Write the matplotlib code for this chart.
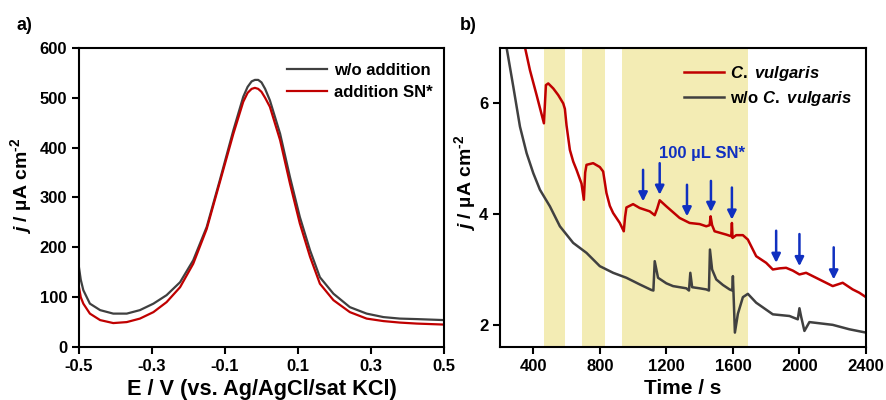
import matplotlib
matplotlib.use("Agg")
import matplotlib.pyplot as plt

# ---------------- data: panel a ----------------
E_gray = [-0.5, -0.495, -0.488, -0.47, -0.442, -0.406, -0.369, -0.333, -0.296, -0.26, -0.223,
          -0.187, -0.15, -0.114, -0.077, -0.05, -0.038, -0.027, -0.018, -0.009, 0.0, 0.01,
          0.023, 0.051, 0.078, 0.105, 0.133, 0.16, 0.197, 0.242, 0.288, 0.334, 0.379, 0.425, 0.5]
j_gray = [160, 135, 114, 87, 74, 67, 67, 74, 87, 104, 130,
          174, 241, 335, 435, 502, 522, 533, 536, 536, 531, 518,
          495, 428, 341, 261, 194, 140, 107, 80, 67, 60, 57, 56, 54]
E_red = [-0.5, -0.495, -0.488, -0.47, -0.442, -0.406, -0.369, -0.333, -0.296, -0.26, -0.223,
         -0.187, -0.15, -0.114, -0.077, -0.05, -0.038, -0.027, -0.018, -0.009, 0.0, 0.01,
         0.023, 0.051, 0.078, 0.105, 0.133, 0.16, 0.197, 0.242, 0.288, 0.334, 0.379, 0.425, 0.5]
j_red = [120, 100, 87, 67, 54, 48, 50, 57, 70, 90, 120,
         167, 237, 331, 428, 492, 510, 518, 520, 518, 512, 500,
         482, 415, 328, 248, 181, 127, 94, 70, 57, 52, 49, 47, 45]
labels_a = ["w/o addition", "addition SN*"]

# ---------------- data: panel b ----------------
t_red = [340, 380, 420, 464, 476, 490, 520, 550, 580, 590, 600, 620, 640, 660, 690, 704, 712,
         720, 760, 800, 820, 840, 860, 880, 920, 944, 952, 960, 1000, 1040, 1100, 1130, 1145,
         1160, 1200, 1280, 1340, 1400, 1440, 1460, 1466, 1475, 1490, 1560, 1590, 1594, 1598,
         1620, 1660, 1690, 1740, 1800, 1840, 1880, 1920, 1960, 2000, 2040, 2080, 2140, 2200,
         2260, 2320, 2360, 2400]
j_red_b = [7.15, 6.6, 6.15, 5.64, 6.33, 6.36, 6.27, 6.15, 6.0, 5.9, 5.6, 5.16, 4.95, 4.8, 4.55,
           4.26, 4.75, 4.89, 4.92, 4.85, 4.77, 4.38, 4.15, 4.02, 3.84, 3.69, 3.95, 4.12, 4.18,
           4.11, 4.05, 3.98, 4.1, 4.25, 4.14, 3.93, 3.84, 3.82, 3.78, 3.8, 3.96, 3.8, 3.69, 3.63,
           3.6, 3.84, 3.57, 3.62, 3.62, 3.54, 3.24, 3.12, 3.0, 3.02, 3.03, 2.98, 2.91, 2.94,
           2.88, 2.79, 2.7, 2.76, 2.64, 2.58, 2.5]
t_gray = [230, 240, 280, 320, 360, 400, 440, 500, 560, 640, 720, 800, 880, 960, 1040, 1110,
          1122, 1130, 1150, 1200, 1240, 1320, 1336, 1344, 1355, 1400, 1440, 1456, 1462, 1475,
          1500, 1540, 1580, 1596, 1600, 1604, 1612, 1630, 1660, 1690, 1740, 1840, 1940, 1990,
          2000, 2010, 2030, 2060, 2200, 2300, 2400]
j_gray_b = [7.3, 7.0, 6.3, 5.58, 5.1, 4.74, 4.44, 4.14, 3.78, 3.48, 3.3, 3.06, 2.94, 2.85, 2.73,
            2.63, 2.62, 3.15, 2.85, 2.75, 2.7, 2.66, 2.62, 2.94, 2.68, 2.66, 2.64, 2.62, 3.36,
            3.0, 2.82, 2.72, 2.64, 2.62, 2.88, 2.55, 1.86, 2.2, 2.5, 2.56, 2.4, 2.19, 2.16, 2.1,
            2.3, 2.15, 1.89, 2.05, 2.0, 1.92, 1.86]
labels_b = ["C. vulgaris", "w/o C. vulgaris"]
shade_start = [465, 690, 932]
shade_end = [590, 834, 1688]
arrow_t = [1060, 1160, 1324, 1468, 1594, 1860, 2000, 2206]
arrow_top = [4.8, 4.92, 4.53, 4.6, 4.48, 3.7, 3.64, 3.4]
arrow_bot = [4.23, 4.35, 3.96, 4.04, 3.9, 3.12, 3.06, 2.82]
annot_text = "100 µL SN*"

# ---------------- style ----------------
plt.rcParams['font.family'] = ['Liberation Sans', 'DejaVu Sans']
plt.rcParams['font.weight'] = 'bold'
plt.rcParams['mathtext.fontset'] = 'custom'
plt.rcParams['mathtext.rm'] = 'Liberation Sans:bold'
plt.rcParams['mathtext.bf'] = 'Liberation Sans:bold'
plt.rcParams['mathtext.it'] = 'Liberation Sans:italic:bold'

RED = '#C00000'
GRAY = '#404040'
SHADE = '#F3ECB4'
BLUE = '#1030C0'
YLABEL = r'$j$ / µA cm$^{\text{-2}}$'

fig = plt.figure(figsize=(8.87, 4.0), dpi=100)
axa = fig.add_axes([0.089, 0.1325, 0.4116, 0.7475])
axb = fig.add_axes([0.5637, 0.1325, 0.4126, 0.7475])

for ax in (axa, axb):
    for s in ax.spines.values():
        s.set_linewidth(1.5)
    ax.tick_params(direction='out', length=5, width=1.5, labelsize=12, top=False, right=False)

# panel a
axa.plot(E_gray, j_gray, color=GRAY, lw=1.6, label=labels_a[0])
axa.plot(E_red, j_red, color=RED, lw=1.6, label=labels_a[1])
axa.set_xlim(-0.5, 0.5)
axa.set_ylim(0, 600)
axa.set_xticks([-0.5, -0.3, -0.1, 0.1, 0.3, 0.5])
axa.set_xticklabels(['-0.5', '-0.3', '-0.1', '0.1', '0.3', '0.5'], fontweight='bold')
axa.set_yticks([0, 100, 200, 300, 400, 500, 600])
axa.set_yticklabels(['0', '100', '200', '300', '400', '500', '600'], fontweight='bold')
axa.set_xlabel('E / V (vs. Ag/AgCl/sat KCl)', fontsize=15.7, fontweight='bold', labelpad=4)
axa.set_ylabel(YLABEL, fontsize=14, fontweight='bold')
axa.yaxis.set_label_coords(-0.124, 0.54)
leg = axa.legend(loc='upper right', frameon=False, fontsize=12, handlelength=2.4,
                 handletextpad=0.4, labelspacing=0.45, borderaxespad=0.3,
                 bbox_to_anchor=(1.0, 0.99))
for txt in leg.get_texts():
    txt.set_fontweight('bold')
fig.text(0.028, 0.937, 'a)', fontsize=13, fontweight='bold', ha='center', va='center')

# panel b
for s0, s1 in zip(shade_start, shade_end):
    axb.axvspan(s0, s1, color=SHADE, lw=0, zorder=0)
axb.plot(t_red, j_red_b, color=RED, lw=1.8, label=labels_b[0])
axb.plot(t_gray, j_gray_b, color=GRAY, lw=1.8, label=labels_b[1])
for t, y0, y1 in zip(arrow_t, arrow_top, arrow_bot):
    axb.annotate('', xy=(t, y1), xytext=(t, y0),
                 arrowprops=dict(arrowstyle='-|>', color=BLUE, lw=1.8, mutation_scale=13,
                                 shrinkA=0, shrinkB=0))
axb.text(1415, 5.1, annot_text, color=BLUE, fontsize=12, fontweight='bold',
         ha='center', va='center')
axb.set_xlim(200, 2400)
axb.set_ylim(1.6, 7.0)
axb.set_xticks([400, 800, 1200, 1600, 2000, 2400])
axb.set_xticklabels(['400', '800', '1200', '1600', '2000', '2400'], fontweight='bold')
axb.set_yticks([2, 4, 6])
axb.set_yticklabels(['2', '4', '6'], fontweight='bold')
axb.set_xlabel('Time / s', fontsize=15, fontweight='bold', labelpad=4)
axb.set_ylabel(YLABEL, fontsize=14, fontweight='bold')
axb.yaxis.set_label_coords(-0.060, 0.55)
legb = axb.legend(loc='upper right', frameon=False, fontsize=12, handlelength=2.4,
                  handletextpad=0.4, labelspacing=0.35, borderaxespad=0.3,
                  bbox_to_anchor=(0.995, 0.985))
t0, t1 = legb.get_texts()
t0.set_text(r'$C.\ vulgaris$')
t1.set_text(r'w/o $C.\ vulgaris$')
fig.text(0.528, 0.937, 'b)', fontsize=13, fontweight='bold', ha='center', va='center')

fig.savefig('out.png', dpi=100)
